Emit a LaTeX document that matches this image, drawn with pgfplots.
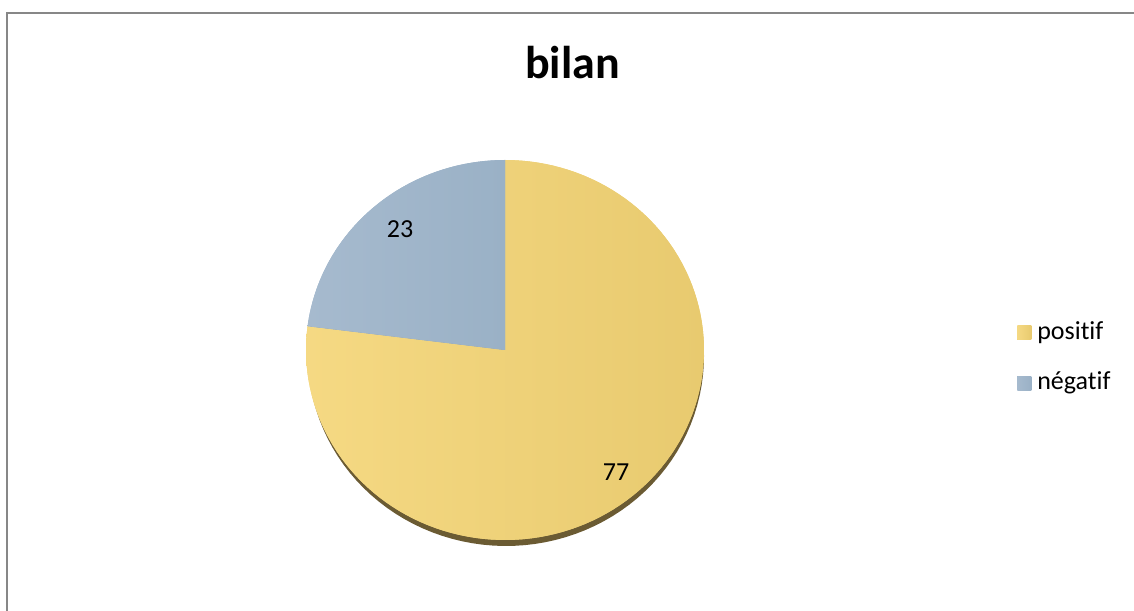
\documentclass[border=0pt]{standalone}
\usepackage{pgfplots}
\pgfplotsset{compat=1.18}
\usepackage{fontspec}
\setmainfont{Carlito}[RawFeature={-liga}]
\definecolor{posY}{HTML}{EFD27A}
\definecolor{posYL}{HTML}{F5D983}
\definecolor{posYR}{HTML}{E8CA6F}
\definecolor{negB}{HTML}{9FB5CA}
\definecolor{negBL}{HTML}{A6BACE}
\definecolor{negBR}{HTML}{9AB1C6}
\definecolor{shad}{HTML}{6B5B33}
\definecolor{frameG}{HTML}{878787}
\begin{document}
\begin{tikzpicture}
\def\valPos{77}
\def\valNeg{23}
\pgfmathsetmacro{\angStart}{90}
\pgfmathsetmacro{\fracPos}{\valPos/(\valPos+\valNeg)}
\pgfmathsetmacro{\angMid}{90-360*\fracPos}
\pgfmathsetmacro{\angMidB}{\angMid+360}
\begin{axis}[
  width=850.5pt, height=457.5pt, scale only axis,
  xmin=0, xmax=1134, ymin=0, ymax=610,
  hide axis, clip=true,
  legend style={at={(axis cs:1013,252)}, anchor=west, draw=none, fill=none,
    font=\fontsize{19.5}{23}\selectfont, legend cell align=left,
    row sep=20pt,
    nodes={inner xsep=4.5pt, inner ysep=0pt, text height=14pt, text depth=4pt}},
  legend image code/.code={\fill[#1,draw=none] (0pt,-5.25pt) rectangle (10.5pt,5.25pt);},
]
\path (axis cs:0,0) rectangle (axis cs:1134,610);
% shadow
\addplot[fill=shad, draw=none, domain=0:360, samples=120, forget plot]
  ({506+198*cos(x)},{254+190*sin(x)});
% slices
\addplot[fill=posY, left color=posYL, right color=posYR, draw=none, domain=\angMid:\angStart, samples=120]
  ({505+199*cos(x)},{260+190*sin(x)}) -- (axis cs:505,260) -- cycle;
\addlegendentry{positif}
\addplot[fill=negB, left color=negBL, right color=negBR, draw=none, domain=\angStart:\angMidB, samples=60]
  ({505+199*cos(x)},{260+190*sin(x)}) -- (axis cs:505,260) -- cycle;
\addlegendentry{négatif}
% data labels
\node[font=\fontsize{19.5}{23}\selectfont] at (axis cs:616,138) {\valPos};
\node[font=\fontsize{19.5}{23}\selectfont] at (axis cs:400,381) {\valNeg};
% title
\node[anchor=base, font=\bfseries\fontsize{34.5}{40}\selectfont] at (axis cs:572.5,531) {bilan};
% frame
\draw[frameG, line width=1.5pt] (axis cs:7,-10) -- (axis cs:7,597) -- (axis cs:1150,597);
\end{axis}
\end{tikzpicture}
\end{document}
